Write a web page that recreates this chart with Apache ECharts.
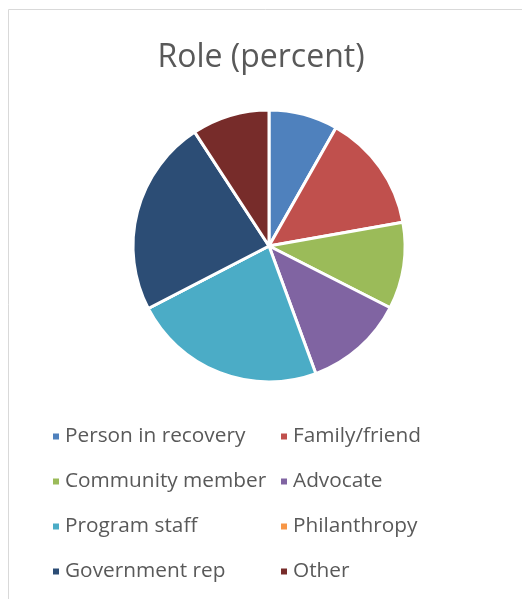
<!DOCTYPE html>
<html><head><meta charset="utf-8">
<script src="https://cdn.jsdelivr.net/npm/echarts@6/dist/echarts.min.js"></script>
<style>html,body{margin:0;padding:0;background:#fff}#c{width:522px;height:599px}</style>
</head><body><div id="c"></div>
<script>
const categories = ["Person in recovery","Family/friend","Community member","Advocate","Program staff","Philanthropy","Government rep","Other"];
const values = [8.2, 14.0, 10.3, 11.9, 23.0, 0, 23.4, 9.2];
const colors = ["#4F81BD","#C0504D","#9BBB59","#8064A2","#4BACC6","#F79646","#2C4D75","#772C2A"];
const leftCol = [categories[0], categories[2], categories[4], categories[6]];
const rightCol = [categories[1], categories[3], categories[5], categories[7]];

const chart = echarts.init(document.getElementById('c'));
const font = "'Open Sans', sans-serif";
const legendCommon = {
  orient: 'vertical', icon: 'rect', itemWidth: 8, itemHeight: 8, itemGap: 24, itemTextGap: 10,
  top: 421, selectedMode: false,
  textStyle: {fontFamily: font, fontSize: 20.8, color: '#595959', lineHeight: 21}
};
chart.setOption({
  animation: false,
  color: colors,
  graphic: [{type:'rect', shape:{x:8.5,y:9.5,width:700,height:700}, style:{fill:'none', stroke:'#d9d9d9', lineWidth:1}, silent:true}],
  title: {text: 'Role (percent)', left: 'center', top: 37, textStyle:{fontFamily: font, fontSize: 32, fontWeight:'normal', color:'#595959'}},
  legend: [
    Object.assign({}, legendCommon, {left: 46, data: leftCol}),
    Object.assign({}, legendCommon, {left: 274, data: rightCol})
  ],
  series: [{
    type: 'pie', center: [269, 246], radius: 136, startAngle: 90, clockwise: true,
    label: {show: false}, labelLine: {show: false},
    itemStyle: {borderColor: '#fff', borderWidth: 3},
    emphasis: {disabled: true},
    data: categories.map((n,i)=>({name:n, value: values[i]}))
  }]
});
</script></body></html>
